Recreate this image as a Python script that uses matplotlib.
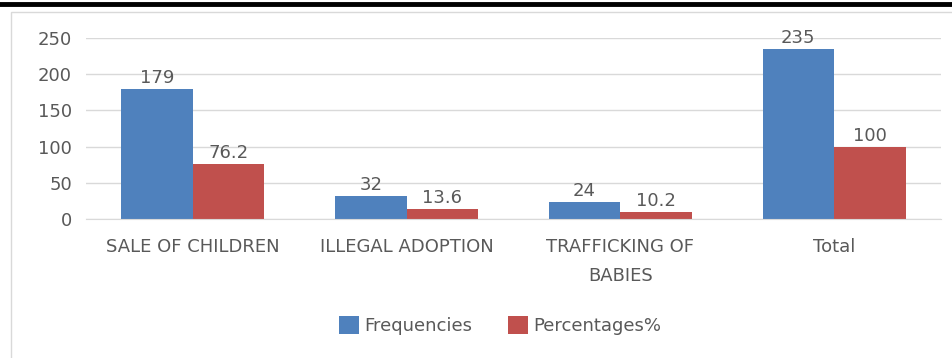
import numpy as np
import matplotlib.pyplot as plt
from matplotlib.patches import Rectangle
from matplotlib.lines import Line2D

plt.rcParams['font.family'] = ['DejaVu Sans']

categories = ['SALE OF CHILDREN', 'ILLEGAL ADOPTION', 'TRAFFICKING OF\nBABIES', 'Total']
frequencies = [179, 32, 24, 235]
percentages = [76.2, 13.6, 10.2, 100]
freq_labels = ['179', '32', '24', '235']
pct_labels = ['76.2', '13.6', '10.2', '100']

blue = '#4F81BD'
red = '#C0504D'
grey = '#595959'
fs = 13

fig = plt.figure(figsize=(9.53, 3.58), dpi=100)
ax = fig.add_axes([0.0902, 0.3883, 0.8972, 0.5056])

x = np.arange(len(categories))
w = 0.335
b1 = ax.bar(x - w / 2, frequencies, w, color=blue, label='Frequencies')
b2 = ax.bar(x + w / 2, percentages, w, color=red, label='Percentages%')

for bars, labs in ((b1, freq_labels), (b2, pct_labels)):
    for bar, lab in zip(bars, labs):
        ax.annotate(lab, (bar.get_x() + bar.get_width() / 2, bar.get_height()),
                    xytext=(0, 1.5), textcoords='offset points',
                    ha='center', va='bottom', fontsize=fs, color=grey)

ax.set_xlim(-0.5, len(categories) - 0.5)
ax.set_ylim(0, 250)
ax.set_yticks([0, 50, 100, 150, 200, 250])
ax.yaxis.grid(True, color='#D9D9D9', lw=1)
ax.set_axisbelow(True)
for s in ['top', 'right', 'left']:
    ax.spines[s].set_visible(False)
ax.spines['bottom'].set_color('#D9D9D9')
ax.tick_params(axis='both', length=0, labelsize=fs, colors=grey)
ax.tick_params(axis='y', pad=10)
ax.tick_params(axis='x', pad=14)
ax.set_xticks(x)
ax.set_xticklabels(categories, linespacing=1.75)

fig.legend(loc='center', bbox_to_anchor=(0.525, 0.09), ncol=2, frameon=False,
           fontsize=fs, labelcolor=grey, handlelength=1.1, handleheight=1.1,
           handletextpad=0.3, columnspacing=2.0)

# chart frame and black rule at the top
fig.patches.append(Rectangle((11 / 953, -0.1), 1.0, 1 - 12 / 358 + 0.1,
                             transform=fig.transFigure, fill=False,
                             edgecolor='#D9D9D9', lw=1))
fig.lines.append(Line2D([0, 1], [1 - 4 / 358, 1 - 4 / 358], transform=fig.transFigure,
                        color='black', lw=3.5))

fig.savefig('out.png', dpi=100)
